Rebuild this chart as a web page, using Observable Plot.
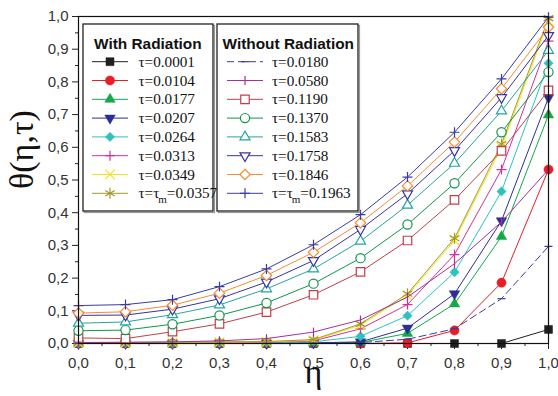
<!DOCTYPE html>
<html><head><meta charset="utf-8">
<script src="https://cdn.jsdelivr.net/npm/d3@7"></script>
<script src="https://cdn.jsdelivr.net/npm/@observablehq/plot@0.6"></script>
<style>html,body{margin:0;padding:0;background:#fff}#chart{width:558px;height:396px}</style>
</head><body><div id="chart"></div>
<script>
// ---- data ----
const eta = [0, 0.1, 0.2, 0.3, 0.4, 0.5, 0.6, 0.7, 0.8, 0.9, 1.0];
const xTicks = [0, 0.1, 0.2, 0.3, 0.4, 0.5, 0.6, 0.7, 0.8, 0.9, 1.0];
const yTicks = [0, 0.1, 0.2, 0.3, 0.4, 0.5, 0.6, 0.7, 0.8, 0.9, 1.0];
const minorTicks = [0.05, 0.15, 0.25, 0.35, 0.45, 0.55, 0.65, 0.75, 0.85, 0.95];

// With radiation
const withTau = ["0.0001", "0.0104", "0.0177", "0.0207", "0.0264", "0.0313", "0.0349", "0.0357"];
const w0001 = [0, 0, 0, 0, 0, 0, 0, 0, 0, 0, 0.043];
const w0104 = [0, 0, 0, 0, 0, 0, 0, 0.002, 0.040, 0.186, 0.532];
const w0177 = [0, 0, 0, 0, 0, 0.001, 0.003, 0.031, 0.121, 0.327, 0.699];
const w0207 = [0, 0, 0, 0, 0, 0.002, 0.005, 0.047, 0.152, 0.375, 0.752];
const w0264 = [0.001, 0.001, 0.001, 0.002, 0.003, 0.005, 0.022, 0.085, 0.218, 0.465, 0.857];
const w0313 = [0.002, 0.002, 0.002, 0.003, 0.004, 0.008, 0.045, 0.119, 0.272, 0.532, 0.925];
const w0349 = [0.002, 0.002, 0.003, 0.004, 0.005, 0.010, 0.056, 0.147, 0.315, 0.600, 0.985];
const w0357 = [0.003, 0.003, 0.004, 0.005, 0.006, 0.012, 0.060, 0.152, 0.322, 0.610, 0.995];

// Without radiation
const withoutTau = ["0.0180", "0.0580", "0.1190", "0.1370", "0.1583", "0.1758", "0.1846", "0.1963"];
const n0180 = [0, 0, 0, 0, 0, 0.001, 0.003, 0.013, 0.045, 0.137, 0.297];
const n0580 = [0.003, 0.004, 0.005, 0.008, 0.015, 0.035, 0.072, 0.142, 0.244, 0.372, 0.532];
const n1190 = [0.017, 0.015, 0.036, 0.060, 0.096, 0.149, 0.219, 0.315, 0.439, 0.589, 0.774];
const n1370 = [0.039, 0.041, 0.059, 0.086, 0.124, 0.183, 0.261, 0.364, 0.490, 0.646, 0.830];
const n1583 = [0.062, 0.066, 0.088, 0.118, 0.167, 0.228, 0.313, 0.423, 0.551, 0.711, 0.896];
const n1758 = [0.086, 0.087, 0.105, 0.137, 0.188, 0.254, 0.349, 0.458, 0.590, 0.752, 0.942];
const n1846 = [0.093, 0.097, 0.117, 0.154, 0.208, 0.279, 0.369, 0.482, 0.616, 0.779, 0.967];
const n1963 = [0.116, 0.119, 0.134, 0.174, 0.228, 0.302, 0.394, 0.509, 0.646, 0.809, 0.998];

// ---- custom symbols ----
const invTri = {draw(ctx, size) {
  const y = -Math.sqrt(size / (Math.sqrt(3) * 3));
  ctx.moveTo(0, -y * 2); ctx.lineTo(-Math.sqrt(3) * y, y); ctx.lineTo(Math.sqrt(3) * y, y); ctx.closePath();
}};
const invTri2 = {draw(ctx, size) {
  const s = Math.sqrt(size) * 0.6824, t = s / 2, u = s * Math.sqrt(3) / 2;
  ctx.moveTo(0, s); ctx.lineTo(u, -t); ctx.lineTo(-u, -t); ctx.closePath();
}};
const vbar = {draw(ctx, size) { const h = Math.sqrt(size) * 0.5; ctx.moveTo(0, -h); ctx.lineTo(0, h); }};
const hbar = {draw(ctx, size) { const h = Math.sqrt(size) * 0.5; ctx.moveTo(-h, 0); ctx.lineTo(h, 0); }};

// ---- styles (separate from data) ----
const withValues = [w0001, w0104, w0177, w0207, w0264, w0313, w0349, w0357];
const withStyle = [
  {c: "#231f20", sym: d3.symbolSquare, r: 4.5, fill: true},
  {c: "#ec1c24", sym: d3.symbolCircle, r: 4.6, fill: true},
  {c: "#14a84a", sym: d3.symbolTriangle, r: 3.9, fill: true},
  {c: "#2b2f93", sym: invTri, r: 3.9, fill: true},
  {c: "#2ec2bd", sym: d3.symbolDiamond2, r: 4.2, fill: true},
  {c: "#d1309f", sym: d3.symbolPlus, r: 3.3, fill: false},
  {c: "#f2e41c", sym: d3.symbolTimes, r: 4.5, fill: false},
  {c: "#a59a2c", sym: d3.symbolAsterisk, r: 5.2, fill: false}
];
const withoutValues = [n0180, n0580, n1190, n1370, n1583, n1758, n1846, n1963];
const withoutStyle = [
  {c: "#3b3ba6", sym: hbar, r: 4.5, fill: false, dash: "7,4"},
  {c: "#a2309e", sym: vbar, r: 5, fill: false},
  {c: "#c0404a", sym: d3.symbolSquare2, r: 5.4, fill: "white"},
  {c: "#10964a", sym: d3.symbolCircle, r: 4.6, fill: "white"},
  {c: "#27a49c", sym: d3.symbolTriangle2, r: 4.8, fill: "white"},
  {c: "#3434a8", sym: invTri2, r: 4.8, fill: "white"},
  {c: "#f58c32", sym: d3.symbolDiamond2, r: 4.7, fill: "white"},
  {c: "#3b3ba6", sym: d3.symbolPlus, r: 3.3, fill: false}
];

const fmt = d => d.toFixed(1).replace(".", ",");

function seriesMarks(values, st) {
  const rows = eta.map((e, i) => ({eta: e, v: values[i]}));
  const fillVal = st.fill === true ? st.c : (st.fill === "white" ? "white" : "none");
  return [
    Plot.line(rows, {x: "eta", y: "v", stroke: st.c, strokeWidth: 1, strokeDasharray: st.dash}),
    Plot.dot(rows, {x: "eta", y: "v", symbol: st.sym, r: st.r, fill: fillVal, stroke: st.c,
      strokeWidth: st.fill === true ? 0.5 : 1.2})
  ];
}

const marks = [
  Plot.axisX({ticks: minorTicks, tickSize: 3, tickFormat: () => "", label: null}),
  Plot.axisY({ticks: minorTicks, tickSize: 3, tickFormat: () => "", label: null}),
  Plot.axisX({ticks: xTicks, tickSize: 6, tickPadding: 8, tickFormat: fmt, label: null, fontSize: 15, fill: "#333"}),
  Plot.axisY({ticks: yTicks, tickSize: 6, tickPadding: 4, tickFormat: fmt, label: null, fontSize: 15, fill: "#333"}),
  Plot.text(["θ(η,τ)"], {frameAnchor: "left", dx: -56, dy: 9, rotate: -90, fontSize: 34,
    fontFamily: "'Liberation Serif', 'Times New Roman', serif", fill: "#111"}),
  Plot.text(["η"], {frameAnchor: "bottom", dy: 39, fontSize: 34,
    fontFamily: "'Liberation Serif', 'Times New Roman', serif", fill: "#111"})
];
withValues.forEach((v, i) => marks.push(...seriesMarks(v, withStyle[i])));
withoutValues.forEach((v, i) => marks.push(...seriesMarks(v, withoutStyle[i])));
marks.push(Plot.frame({stroke: "#111", strokeWidth: 1.2}));

const plot = Plot.plot({
  width: 558, height: 396,
  marginLeft: 78, marginRight: 10, marginTop: 16, marginBottom: 53,
  x: {domain: [0, 1]},
  y: {domain: [0, 1]},
  style: {fontFamily: "'Liberation Sans', Arial, sans-serif", fontSize: "15px", color: "#222", background: "#fff", overflow: "visible"},
  marks
});
document.getElementById("chart").appendChild(plot);

// ---- legends ----
const svg = d3.select(plot);
function legend(box, title, taus, styles, tmIndex) {
  const g = svg.append("g").attr("text-anchor", "start");
  g.append("rect").attr("x", box.x + 1.5).attr("y", box.y + 1.5).attr("width", box.w).attr("height", box.h)
    .attr("fill", "none").attr("stroke", "#999").attr("stroke-width", 1.2);
  g.append("rect").attr("x", box.x).attr("y", box.y).attr("width", box.w).attr("height", box.h)
    .attr("fill", "white").attr("stroke", "#222").attr("stroke-width", 1.3);
  g.append("text").attr("x", box.tx0).attr("y", box.y + 24.5).attr("text-anchor", "start")
    .attr("font-family", "'Liberation Sans', Arial, sans-serif").attr("font-weight", "bold")
    .attr("font-size", 15.4).attr("fill", "#111").text(title);
  taus.forEach((t, i) => {
    const st = styles[i];
    const cy = box.y + 37.7 + i * 18.8;
    g.append("line").attr("x1", box.lx1).attr("x2", box.lx2).attr("y1", cy).attr("y2", cy)
      .attr("stroke", st.c).attr("stroke-width", 1).attr("stroke-dasharray", st.dash || null);
    const fillVal = st.fill === true ? st.c : (st.fill === "white" ? "white" : "none");
    g.append("path").attr("d", d3.symbol().type(st.sym).size(Math.PI * st.r * st.r)())
      .attr("transform", `translate(${(box.lx1 + box.lx2) / 2},${cy})`)
      .attr("fill", fillVal).attr("stroke", st.c).attr("stroke-width", st.fill === true ? 0.5 : 1.2);
    const tx = g.append("text").attr("x", box.tx).attr("y", cy + 5).attr("text-anchor", "start")
      .attr("font-family", "'Liberation Serif', 'Times New Roman', serif").attr("font-size", 15.2).attr("fill", "#111");
    if (i === tmIndex) {
      tx.append("tspan").text("τ=τ");
      tx.append("tspan").attr("dy", 5).attr("dx", -1).attr("font-size", 11).text("m");
      tx.append("tspan").attr("dy", -5).text("=" + t);
    } else {
      tx.text("τ=" + t);
    }
  });
}
legend({x: 83, y: 24, w: 130, h: 187, tx0: 94, lx1: 92, lx2: 128, tx: 138.5}, "With Radiation", withTau, withStyle, 7);
legend({x: 217, y: 24, w: 141, h: 187, tx0: 222.5, lx1: 227, lx2: 263, tx: 272}, "Without Radiation", withoutTau, withoutStyle, 7);
</script>
</body></html>
